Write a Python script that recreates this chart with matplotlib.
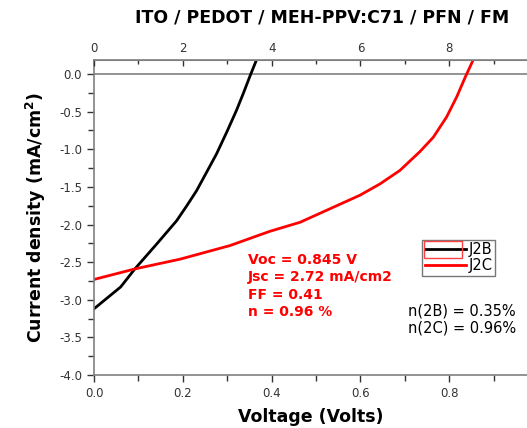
import matplotlib
matplotlib.use("Agg")
import matplotlib.pyplot as plt
from matplotlib.patches import Rectangle
from matplotlib.ticker import MultipleLocator

plt.rcParams["font.family"] = ["DejaVu Sans"]

# J-V data
v_2b = [0.0, 0.06, 0.092, 0.141, 0.186, 0.209, 0.231, 0.254, 0.276, 0.299,
        0.321, 0.336, 0.351, 0.366]
j_2b = [-3.12, -2.83, -2.59, -2.26, -1.95, -1.75, -1.55, -1.30, -1.06, -0.77,
        -0.48, -0.26, -0.03, 0.19]

v_2c = [0.0, 0.092, 0.194, 0.306, 0.396, 0.464, 0.539, 0.599, 0.644, 0.689,
        0.734, 0.764, 0.794, 0.817, 0.836, 0.854]
j_2c = [-2.73, -2.59, -2.46, -2.28, -2.09, -1.97, -1.77, -1.61, -1.46, -1.28,
        -1.03, -0.84, -0.57, -0.30, -0.04, 0.19]

labels = ["J2B", "J2C"]
title = "ITO / PEDOT / MEH-PPV:C71 / PFN / FM"
stats_2c = ["Voc = 0.845 V", "Jsc = 2.72 mA/cm2", "FF = 0.41", "n = 0.96 %"]
eff = ["n(2B) = 0.35%", "n(2C) = 0.96%"]

fig = plt.figure(figsize=(5.27, 4.28), dpi=100)
ax = fig.add_axes([94 / 527, 53 / 428, 1 - 94 / 527, 315 / 428])

ax.plot(v_2b, j_2b, color="black", lw=2, label=labels[0])
ax.plot(v_2c, j_2c, color="#ff0000", lw=2, label=labels[1])
ax.axhline(0, color="#808080", lw=1.2, zorder=0)

ax.set_xlim(0, 0.975)
ax.set_ylim(-4.0, 0.187)
ax.xaxis.set_major_locator(MultipleLocator(0.2))
ax.xaxis.set_minor_locator(MultipleLocator(0.1))
ax.yaxis.set_major_locator(MultipleLocator(0.5))
ax.yaxis.set_minor_locator(MultipleLocator(0.25))
ax.tick_params(which="both", direction="out", labelsize=8.5, colors="#333333",
               length=4, width=1)
ax.tick_params(which="major", length=5)
ax.xaxis.set_major_formatter(lambda x, p: f"{x:.1f}")
ax.yaxis.set_major_formatter(lambda y, p: f"{y:.1f}")

ax.spines["right"].set_visible(False)
for s in ["left", "bottom", "top"]:
    ax.spines[s].set_color("#808080")
    ax.spines[s].set_linewidth(1.2)

# top axis (x10)
top = ax.twiny()
top.set_xlim(0, 9.75)
top.xaxis.set_major_locator(MultipleLocator(2))
top.xaxis.set_minor_locator(MultipleLocator(1))
top.tick_params(which="both", direction="in", labelsize=8.5, colors="#333333",
                length=3, width=1)
top.tick_params(which="major", length=4)
top.spines["right"].set_visible(False)
top.spines["top"].set_color("#808080")
top.spines["left"].set_visible(False)
top.spines["bottom"].set_visible(False)

ax.set_xlabel("Voltage (Volts)", fontsize=12.5, fontweight="bold", labelpad=6)
ax.set_ylabel("Current density (mA/cm$^\\mathbf{2}$)", fontsize=12.5,
              fontweight="bold", labelpad=8)
fig.text(322 / 527, 1 - 18 / 428, title, ha="center", va="center",
         fontsize=12.5, fontweight="bold")

leg = ax.legend(loc="upper left", bbox_to_anchor=(0.757, 0.43),
                frameon=True, fancybox=False, fontsize=10.5, handlelength=2.8,
                handletextpad=0.2, borderpad=0.2, labelspacing=0.05,
                borderaxespad=0)
leg.get_frame().set_edgecolor("#555555")
leg.get_frame().set_linewidth(1)
# red selection box left around the J2B legend sample
ax.add_patch(Rectangle((0.762, 0.371), 0.088, 0.054, transform=ax.transAxes,
                       fill=False, edgecolor="#ff4040", lw=1, zorder=10))

ax.text(0.347, -2.38, "\n".join(stats_2c), color="#ff0000", fontsize=10,
        fontweight="bold", va="top", ha="left", linespacing=1.3)
ax.text(0.707, -3.05, "\n".join(eff), color="black", fontsize=10.5,
        va="top", ha="left", linespacing=1.15)

fig.savefig("out.png", dpi=100)
